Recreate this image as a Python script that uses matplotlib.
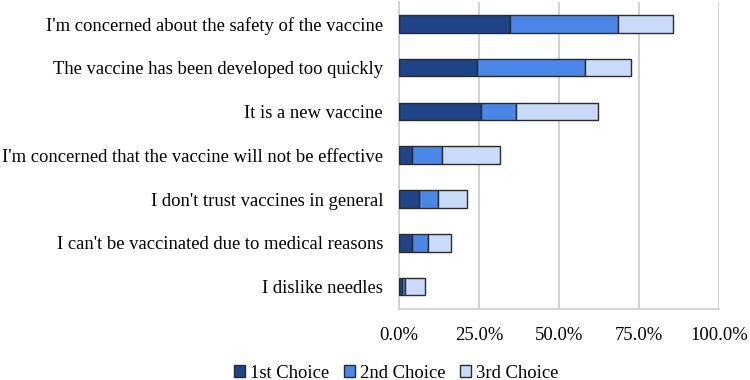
import numpy as np
import matplotlib.pyplot as plt

plt.rcParams['font.family'] = ['Liberation Serif', 'DejaVu Serif']

reasons = [
    "I'm concerned about the safety of the vaccine",
    "The vaccine has been developed too quickly",
    "It is a new vaccine",
    "I'm concerned that the vaccine will not be effective",
    "I don't trust vaccines in general",
    "I can't be vaccinated due to medical reasons",
    "I dislike needles",
]
first_choice = [34.6, 24.4, 25.5, 4.2, 6.2, 4.2, 1.0]
second_choice = [33.7, 33.7, 11.2, 9.1, 6.1, 5.0, 1.0]
third_choice = [17.4, 14.3, 25.6, 18.3, 9.1, 7.2, 6.1]

series = [
    ("1st Choice", first_choice, "#1f4588"),
    ("2nd Choice", second_choice, "#4a87e6"),
    ("3rd Choice", third_choice, "#c9dbf8"),
]

fig = plt.figure(figsize=(7.5, 3.8), dpi=100)
ax = fig.add_axes([399 / 750, 1 - 308.5 / 380, 320 / 750, 306.5 / 380])

y = np.arange(len(reasons))
left = np.zeros(len(reasons))
for name, vals, color in series:
    ax.barh(y, vals, left=left, height=0.4, color=color, edgecolor="#2b2b2b",
            linewidth=1.0, label=name, zorder=3)
    left += np.array(vals)

ax.set_ylim(len(reasons) - 0.5, -0.5)
ax.set_xlim(0, 100)
ax.set_yticks(y)
ax.set_yticklabels(reasons, fontsize=13.4)
ax.set_xticks([0, 25, 50, 75, 100])
ax.set_xticklabels(["0.0%", "25.0%", "50.0%", "75.0%", "100.0%"], fontsize=13.4)
ax.tick_params(axis="y", length=0, pad=11.5)
ax.tick_params(axis="x", length=0, pad=13)
ax.grid(axis="x", color="#d0d0d0", linewidth=1.3, zorder=0)
for s in ["top", "right"]:
    ax.spines[s].set_visible(False)
ax.spines["left"].set_color("#d0d0d0")
ax.spines["bottom"].set_color("#d0d0d0")
ax.spines["left"].set_linewidth(1.3)
ax.spines["bottom"].set_linewidth(1.3)

fig.legend(loc="center", bbox_to_anchor=(396 / 750, 1 - 373 / 380), ncol=3,
           frameon=False, fontsize=13.4, handlelength=0.6, handleheight=0.6,
           handletextpad=0.25, columnspacing=0.8, borderpad=0)

fig.savefig("out.png", dpi=100)
